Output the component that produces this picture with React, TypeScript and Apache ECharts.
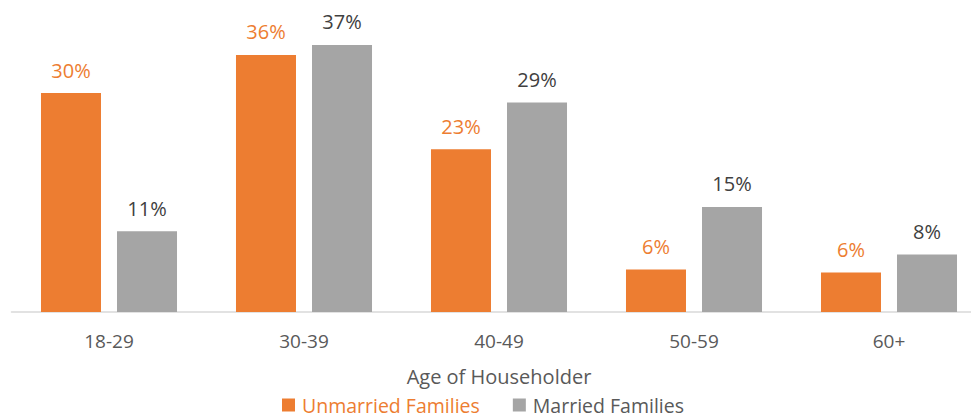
import React, { useEffect, useRef } from "react";
import * as echarts from "echarts";

const categories = ["18-29", "30-39", "40-49", "50-59", "60+"];
const unmarried = [30.4, 35.7, 22.6, 5.9, 5.5];
const married = [11.2, 37.1, 29.1, 14.6, 8.0];
const seriesNames = ["Unmarried Families", "Married Families"];
const axisName = "Age of Householder";

const FONT = "Open Sans";

export default function App() {
  const ref = useRef<HTMLDivElement>(null);
  useEffect(() => {
    const chart = echarts.init(ref.current!, null, { renderer: "svg" });
    chart.setOption({
      animation: false,
      textStyle: { fontFamily: FONT },
      grid: { left: 11.5, width: 975, top: 24, height: 288, containLabel: false },
      legend: {
        top: 395,
        left: 282,
        padding: 0,
        itemWidth: 13,
        itemHeight: 13,
        itemGap: 33,
        icon: "rect",
        textStyle: { fontSize: 19.5, fontFamily: FONT, color: "#595959", padding: [0, 0, 0, 2] },
        data: [
          { name: seriesNames[0], textStyle: { color: "#ED7D31" } },
          { name: seriesNames[1], textStyle: { color: "#595959" } },
        ],
      },
      xAxis: {
        type: "category",
        data: categories,
        name: axisName,
        nameLocation: "middle",
        nameGap: 54,
        nameTextStyle: { fontSize: 20, color: "#595959", fontFamily: FONT },
        axisLine: { lineStyle: { color: "#D9D9D9", width: 1.5 } },
        axisTick: { show: false },
        axisLabel: { fontSize: 19, color: "#595959", margin: 19, fontFamily: FONT },
      },
      yAxis: {
        type: "value",
        min: 0,
        max: 40,
        show: false,
        splitLine: { show: false },
      },
      series: [
        {
          name: seriesNames[0],
          type: "bar",
          data: unmarried,
          barWidth: 60,
          barGap: "26.7%",
          itemStyle: { color: "#ED7D31" },
          label: {
            show: true,
            position: "top",
            distance: 13,
            fontSize: 20,
            color: "#ED7D31",
            fontFamily: FONT,
            formatter: (p: any) => Math.round(p.value) + "%",
          },
        },
        {
          name: seriesNames[1],
          type: "bar",
          data: married,
          barWidth: 60,
          itemStyle: { color: "#A5A5A5" },
          label: {
            show: true,
            position: "top",
            distance: 13,
            fontSize: 20,
            color: "#404040",
            fontFamily: FONT,
            formatter: (p: any) => Math.round(p.value) + "%",
          },
        },
      ],
    });
    return () => chart.dispose();
  }, []);
  return (
    <div
      style={{
        position: "absolute",
        left: 0,
        top: 0,
        width: 971,
        height: 417,
        overflow: "hidden",
        background: "#fff",
      }}
    >
      <div ref={ref} style={{ width: 1000, height: 417 }} />
    </div>
  );
}
